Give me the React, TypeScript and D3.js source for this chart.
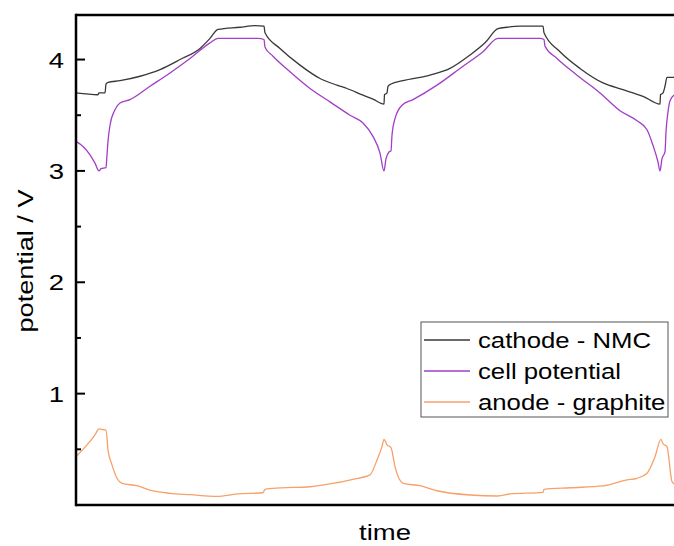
import React, { useRef, useEffect } from 'react';
import * as d3 from 'd3';

// time in arbitrary units (no ticks on the time axis), potential in V
const cathodeTime = [0, 22, 23, 29, 30, 32, 44, 64, 84, 104, 124, 134, 142, 164, 179, 188, 189, 204, 224, 244, 261, 271, 287, 297, 308, 308.5, 311, 312, 315, 327, 354, 374, 394, 409, 422, 431, 444, 467, 468, 484, 504, 527, 547, 557, 567, 584, 584.5, 587, 589, 591, 596, 610];
const cathodeV = [3.7, 3.684, 3.7, 3.7, 3.78, 3.795, 3.81, 3.85, 3.91, 4.0, 4.1, 4.19, 4.27, 4.29, 4.305, 4.3, 4.24, 4.1, 3.95, 3.83, 3.77, 3.74, 3.68, 3.645, 3.6, 3.684, 3.7, 3.76, 3.78, 3.81, 3.86, 3.92, 4.04, 4.15, 4.277, 4.29, 4.3, 4.3, 4.24, 4.07, 3.92, 3.79, 3.73, 3.7, 3.67, 3.6, 3.684, 3.7, 3.76, 3.84, 3.84, 3.85];

const cellTime = [0, 7, 14, 19, 23, 25, 30, 31, 32, 34, 39, 44, 54, 74, 94, 114, 134, 142, 182, 188, 189, 197, 214, 234, 254, 274, 287, 297, 304, 308, 310, 313, 315, 316, 319, 326, 337, 361, 387, 407, 422, 464, 468, 469, 481, 501, 524, 544, 561, 571, 577, 582, 584, 586, 589, 590, 592, 594, 598, 610];
const cellV = [3.265, 3.22, 3.145, 3.07, 3.0, 3.02, 3.03, 3.145, 3.265, 3.41, 3.55, 3.61, 3.64, 3.76, 3.88, 4.01, 4.15, 4.19, 4.19, 4.18, 4.11, 4.03, 3.89, 3.74, 3.62, 3.5, 3.43, 3.31, 3.16, 3.0, 3.11, 3.17, 3.18, 3.32, 3.47, 3.59, 3.64, 3.77, 3.94, 4.07, 4.19, 4.19, 4.18, 4.12, 4.01, 3.86, 3.7, 3.54, 3.45, 3.37, 3.23, 3.08, 3.0, 3.11, 3.17, 3.35, 3.53, 3.63, 3.68, 3.72];

const anodeTime = [0, 11, 19, 23, 29, 30, 32, 36, 41, 46, 61, 77, 94, 114, 141, 161, 187, 189, 204, 234, 254, 277, 294, 301, 306, 308, 311, 315, 319, 327, 344, 361, 394, 422, 434, 467, 468, 494, 527, 551, 561, 571, 579, 585, 587, 591, 596, 600];
const anodeV = [0.434, 0.54, 0.63, 0.683, 0.674, 0.674, 0.494, 0.36, 0.24, 0.195, 0.173, 0.126, 0.105, 0.093, 0.078, 0.099, 0.11, 0.141, 0.153, 0.164, 0.189, 0.231, 0.27, 0.404, 0.524, 0.59, 0.54, 0.515, 0.344, 0.195, 0.173, 0.128, 0.09, 0.081, 0.099, 0.114, 0.141, 0.155, 0.171, 0.225, 0.24, 0.285, 0.434, 0.59, 0.55, 0.524, 0.21, 0.18];

const legendLabels = ['cathode - NMC', 'cell potential', 'anode - graphite'];
const seriesColors = ['#383838', '#a23ec8', '#f7a06a'];
const majorTicks = [1, 2, 3, 4];
const minorTicks = [0.5, 1.5, 2.5, 3.5];

const FONT = '"Liberation Sans", Arial, Helvetica, sans-serif';

const App = () => {
  const chartRef = useRef<SVGSVGElement>(null);

  useEffect(() => {
    const svg = d3.select(chartRef.current);
    const width = 674;
    const height = 546;
    const margin = { top: 15, right: -20, bottom: 41, left: 76 };

    svg.selectAll('*').remove();

    const x = d3
      .scaleLinear()
      .domain([0, 618])
      .range([margin.left, width - margin.right]);

    const y = d3
      .scaleLinear()
      .domain([0, 4.4])
      .range([height - margin.bottom, margin.top]);

    svg
      .append('defs')
      .append('clipPath')
      .attr('id', 'plot-clip')
      .append('rect')
      .attr('x', x(0))
      .attr('y', y(4.4))
      .attr('width', x(618) - x(0))
      .attr('height', y(0) - y(4.4));

    const series = [
      { t: cathodeTime, v: cathodeV },
      { t: cellTime, v: cellV },
      { t: anodeTime, v: anodeV },
    ];

    const line = d3
      .line<[number, number]>()
      .x((d) => x(d[0]))
      .y((d) => y(d[1]))
      .curve(d3.curveMonotoneX);

    const lines = svg.append('g').attr('clip-path', 'url(#plot-clip)');
    series.forEach((s, i) => {
      const pts = s.t.map((t, j) => [t, s.v[j]] as [number, number]);
      lines
        .append('path')
        .attr('d', line(pts))
        .attr('fill', 'none')
        .attr('stroke', seriesColors[i])
        .attr('stroke-width', 1.3);
    });

    // frame: left, top, bottom (right side lies outside the window)
    const axisG = svg.append('g').attr('stroke', '#000').attr('stroke-width', 2.5);
    axisG.append('line').attr('x1', x(0)).attr('x2', x(0)).attr('y1', y(4.4) - 1.2).attr('y2', y(0) + 1.2);
    axisG.append('line').attr('x1', x(0)).attr('x2', width).attr('y1', y(4.4)).attr('y2', y(4.4));
    axisG.append('line').attr('x1', x(0)).attr('x2', width).attr('y1', y(0)).attr('y2', y(0));

    // inward ticks
    const tickG = svg.append('g').attr('stroke', '#000').attr('stroke-width', 2);
    majorTicks.forEach((v) => {
      tickG.append('line').attr('x1', x(0)).attr('x2', x(0) + 9).attr('y1', y(v)).attr('y2', y(v));
    });
    minorTicks.forEach((v) => {
      tickG.append('line').attr('x1', x(0)).attr('x2', x(0) + 5).attr('y1', y(v)).attr('y2', y(v));
    });

    const label = (
      g: d3.Selection<SVGGElement, unknown, null, undefined>,
      text: string,
      tx: number,
      ty: number,
      anchor: string,
      sx: number,
      rotate = 0
    ) =>
      g
        .append('text')
        .attr('transform', `translate(${tx},${ty}) rotate(${rotate}) scale(${sx},1)`)
        .attr('text-anchor', anchor)
        .attr('font-family', FONT)
        .attr('font-size', 22)
        .attr('fill', '#000')
        .text(text);

    const textG = svg.append('g');
    majorTicks.forEach((v) => label(textG, String(v), 64, y(v) + 8, 'end', 1.25));
    label(textG, 'potential / V', 33, 261, 'middle', 1.23, -90);
    label(textG, 'time', 385, 540, 'middle', 1.25);

    // legend
    const legend = svg.append('g');
    legend
      .append('rect')
      .attr('x', 421)
      .attr('y', 322)
      .attr('width', 247)
      .attr('height', 95)
      .attr('fill', '#fff')
      .attr('stroke', '#555')
      .attr('stroke-width', 1);
    legendLabels.forEach((name, i) => {
      const ly = 340 + i * 31;
      legend
        .append('line')
        .attr('x1', 424)
        .attr('x2', 470)
        .attr('y1', ly)
        .attr('y2', ly)
        .attr('stroke', seriesColors[i])
        .attr('stroke-width', 1.3);
      label(legend, name, 478, ly + 7.5, 'start', 1.17);
    });
  }, []);

  return (
    <svg
      ref={chartRef}
      width={674}
      height={546}
      style={{ position: 'absolute', left: 0, top: 0, background: '#fff' }}
    />
  );
};

export default App;
